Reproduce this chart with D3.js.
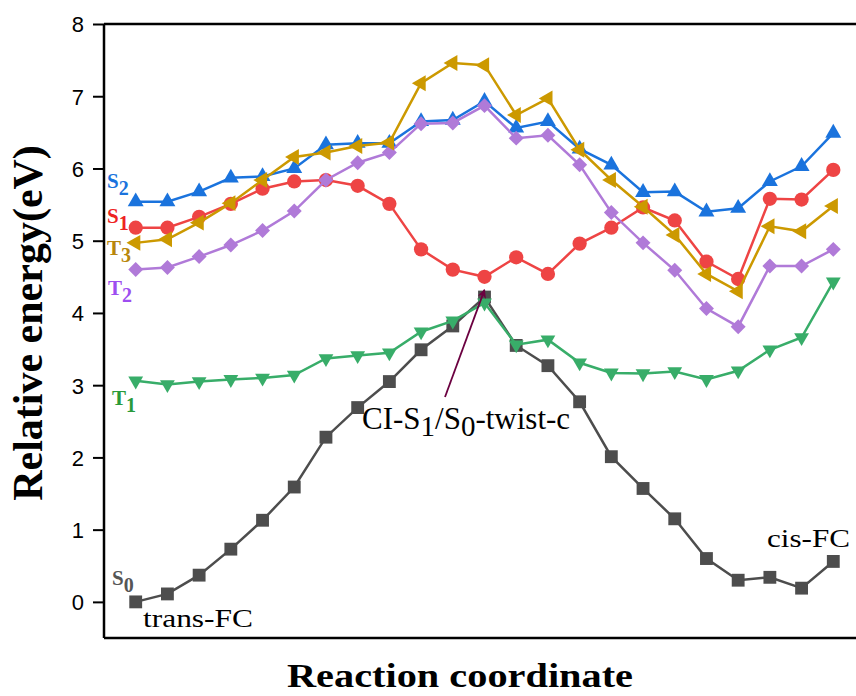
<!DOCTYPE html>
<meta charset="utf-8">
<style>
body { margin: 0; background: #fff; }
.tick text { font: 22px "Liberation Sans", Arial, sans-serif; fill: #000; }
.lab { font-family: "Liberation Serif", "Times New Roman", serif; }
</style>
<body>
<script src="https://cdn.jsdelivr.net/npm/d3@7"></script>
<script>

var width = 856,
    height = 696;

// reaction coordinate points 1..23
var points = d3.range(1, 24);

var s0 = [0.00, 0.11, 0.37, 0.73, 1.13, 1.59, 2.28, 2.69, 3.05, 3.49, 3.82, 4.22,
          3.55, 3.27, 2.77, 2.01, 1.57, 1.15, 0.60, 0.30, 0.34, 0.19, 0.56];
var t1 = [3.06, 3.01, 3.05, 3.08, 3.10, 3.14, 3.37, 3.41, 3.45, 3.74, 3.89, 4.14,
          3.56, 3.63, 3.31, 3.17, 3.16, 3.19, 3.08, 3.20, 3.49, 3.66, 4.43];
var s1 = [5.18, 5.18, 5.33, 5.51, 5.72, 5.82, 5.84, 5.76, 5.51, 4.88, 4.60, 4.50,
          4.77, 4.54, 4.96, 5.18, 5.46, 5.28, 4.71, 4.47, 5.58, 5.57, 5.98];
var s2 = [5.54, 5.54, 5.68, 5.87, 5.89, 6.00, 6.33, 6.35, 6.35, 6.65, 6.67, 6.93,
          6.56, 6.65, 6.27, 6.05, 5.67, 5.68, 5.40, 5.45, 5.82, 6.03, 6.49];
var t2 = [4.60, 4.63, 4.78, 4.94, 5.14, 5.41, 5.84, 6.08, 6.22, 6.62, 6.63, 6.87,
          6.42, 6.46, 6.05, 5.39, 4.97, 4.59, 4.06, 3.81, 4.65, 4.65, 4.88];
var t3 = [4.97, 5.02, 5.25, 5.52, 5.84, 6.16, 6.22, 6.31, 6.36, 7.18, 7.46, 7.43,
          6.74, 6.97, 6.26, 5.84, 5.47, 5.08, 4.54, 4.30, 5.20, 5.13, 5.48];

var yTicks = [0, 1, 2, 3, 4, 5, 6, 7, 8];

var series = [
  { name: "S", sub: "0", values: s0, color: "#4d4d4d", label: "#555555", shape: d3.symbolSquare, size: 165, rot: 0, ly: 0.23, lx: 112 },
  { name: "T", sub: "1", values: t1, color: "#38ad69", label: "#2a9a3a", shape: d3.symbolTriangle, size: 95, rot: 180, ly: 2.73, lx: 112 },
  { name: "S", sub: "1", values: s1, color: "#ee4444", label: "#ee2222", shape: d3.symbolCircle, size: 160, rot: 0, ly: 5.25, lx: 107 },
  { name: "S", sub: "2", values: s2, color: "#1a73dd", label: "#1a73dd", shape: d3.symbolTriangle, size: 110, rot: 0, ly: 5.73, lx: 107 },
  { name: "T", sub: "2", values: t2, color: "#b07ad8", label: "#9d4ef0", shape: d3.symbolSquare, size: 112, rot: 45, ly: 4.25, lx: 108 },
  { name: "T", sub: "3", values: t3, color: "#cc9900", label: "#b8860b", shape: d3.symbolTriangle, size: 110, rot: -90, ly: 4.80, lx: 107 }
];

var x = d3.scaleLinear().domain([0, 24]).range([104, 865]);
var y = d3.scaleLinear().domain([-0.5, 8]).range([638, 24]);

var svg = d3.select("body").append("svg")
    .attr("width", width)
    .attr("height", height);

// frame
svg.append("g")
    .attr("transform", "translate(104,0)")
    .call(d3.axisLeft(y).tickValues(yTicks).tickSize(11).tickPadding(9).tickFormat(d3.format("d")))
    .call(function(g) { g.select(".domain").attr("stroke-width", 2.5).attr("d", "M0,638V24"); })
    .call(function(g) { g.selectAll(".tick line").attr("stroke-width", 2); })
    .call(function(g) { g.selectAll(".tick text").attr("dy", "0.36em"); });

svg.append("g")
    .attr("transform", "translate(865,0)")
    .call(d3.axisLeft(y).tickValues(yTicks).tickSize(-11).tickFormat(""))
    .call(function(g) { g.select(".domain").remove(); })
    .call(function(g) { g.selectAll(".tick line").attr("stroke-width", 2); });

svg.append("line")
    .attr("x1", 104).attr("x2", 865).attr("y1", y(8)).attr("y2", y(8))
    .attr("stroke", "#000").attr("stroke-width", 2.5);
svg.append("line")
    .attr("x1", 104).attr("x2", 865).attr("y1", y(-0.5)).attr("y2", y(-0.5))
    .attr("stroke", "#000").attr("stroke-width", 2.5);

var line = d3.line()
    .x(function(d, i) { return x(points[i]); })
    .y(function(d) { return y(d); });

series.forEach(function(s) {
  var g = svg.append("g");
  g.append("path")
      .attr("d", line(s.values))
      .attr("fill", "none")
      .attr("stroke", s.color)
      .attr("stroke-width", 2.5);
  var sym = d3.symbol().type(s.shape).size(s.size);
  g.selectAll("path.m").data(s.values).enter().append("path")
      .attr("class", "m")
      .attr("d", sym)
      .attr("fill", s.color)
      .attr("transform", function(d, i) {
        return "translate(" + x(points[i]) + "," + y(d) + ") rotate(" + s.rot + ")";
      });
});

// state labels
series.forEach(function(s) {
  var t = svg.append("text")
      .attr("class", "lab")
      .attr("x", s.lx)
      .attr("y", y(s.ly))
      .attr("fill", s.label)
      .attr("font-weight", "bold")
      .attr("font-size", 21);
  t.append("tspan").text(s.name);
  t.append("tspan").attr("dy", 7).attr("font-size", 20).text(s.sub);
});

// annotations
svg.append("text").attr("class", "lab")
    .attr("x", 143).attr("y", 627).attr("font-size", 25)
    .attr("textLength", 110).attr("lengthAdjust", "spacingAndGlyphs")
    .text("trans-FC");
svg.append("text").attr("class", "lab")
    .attr("x", 767).attr("y", 547).attr("font-size", 25)
    .attr("textLength", 83).attr("lengthAdjust", "spacingAndGlyphs")
    .text("cis-FC");

var ci = svg.append("text").attr("class", "lab")
    .attr("x", 362).attr("y", 429).attr("font-size", 31);
ci.append("tspan").text("CI-S");
ci.append("tspan").attr("dy", 7).attr("font-size", 29).text("1");
ci.append("tspan").attr("dy", -7).text("/S");
ci.append("tspan").attr("dy", 7).attr("font-size", 29).text("0");
ci.append("tspan").attr("dy", -7).text("-twist-c");

svg.append("defs").append("marker")
    .attr("id", "head")
    .attr("viewBox", "0 0 10 10")
    .attr("refX", 9).attr("refY", 5)
    .attr("markerWidth", 5).attr("markerHeight", 5)
    .attr("orient", "auto")
  .append("path")
    .attr("d", "M0,0L10,5L0,10L3,5Z")
    .attr("fill", "#6b0040");

svg.append("line")
    .attr("x1", 445).attr("y1", 397)
    .attr("x2", x(12)).attr("y2", y(4.32))
    .attr("stroke", "#6b0040").attr("stroke-width", 1.8)
    .attr("marker-end", "url(#head)");

// axis titles
svg.append("text").attr("class", "lab")
    .attr("transform", "translate(42,323) rotate(-90)")
    .attr("text-anchor", "middle")
    .attr("font-weight", "bold").attr("font-size", 42)
    .text("Relative energy(eV)");

svg.append("text").attr("class", "lab")
    .attr("x", 287).attr("y", 687)
    .attr("font-weight", "bold").attr("font-size", 34)
    .attr("textLength", 346).attr("lengthAdjust", "spacingAndGlyphs")
    .text("Reaction coordinate");

</script>
</body>
</html>
